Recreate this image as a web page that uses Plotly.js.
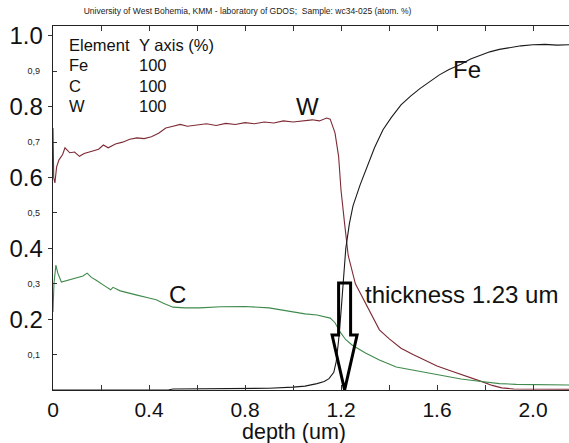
<!DOCTYPE html>
<html>
<head>
<meta charset="utf-8">
<script src="https://cdn.plot.ly/plotly-3.0.1.min.js"></script>
<style>html,body{margin:0;padding:0;background:#fff;}#chart{width:569px;height:443px;}</style>
</head>
<body>
<div id="chart"></div>
<script>
// ---- data ----
const wDepth = [0, 0.003, 0.008, 0.015, 0.025, 0.04, 0.05, 0.07, 0.09, 0.11, 0.13, 0.15, 0.17, 0.19, 0.21, 0.23, 0.26, 0.29, 0.32, 0.35, 0.38, 0.41, 0.44, 0.47, 0.5, 0.53, 0.56, 0.6, 0.64, 0.68, 0.72, 0.76, 0.8, 0.84, 0.88, 0.92, 0.96, 1.0, 1.04, 1.08, 1.11, 1.14, 1.155, 1.175, 1.19, 1.2, 1.215, 1.23, 1.26, 1.29, 1.32, 1.36, 1.4, 1.45, 1.5, 1.55, 1.6, 1.65, 1.7, 1.75, 1.79, 1.83, 1.87, 1.92, 2.0, 2.08, 2.15];
const wValue = [0.74, 0.60, 0.585, 0.63, 0.65, 0.665, 0.684, 0.67, 0.672, 0.66, 0.668, 0.672, 0.675, 0.68, 0.692, 0.684, 0.695, 0.70, 0.708, 0.712, 0.71, 0.715, 0.725, 0.74, 0.745, 0.75, 0.745, 0.748, 0.752, 0.747, 0.753, 0.75, 0.755, 0.752, 0.757, 0.754, 0.76, 0.757, 0.761, 0.763, 0.76, 0.768, 0.765, 0.726, 0.66, 0.565, 0.47, 0.38, 0.30, 0.26, 0.22, 0.17, 0.145, 0.118, 0.10, 0.083, 0.068, 0.056, 0.045, 0.033, 0.023, 0.013, 0.006, 0.003, 0.002, 0.002, 0.002];

const feDepth = [0, 0.48, 0.5, 0.6, 0.7, 0.8, 0.9, 1.0, 1.05, 1.1, 1.13, 1.15, 1.17, 1.18, 1.19, 1.2, 1.21, 1.22, 1.235, 1.25, 1.28, 1.31, 1.34, 1.375, 1.41, 1.45, 1.49, 1.53, 1.57, 1.61, 1.65, 1.7, 1.74, 1.78, 1.82, 1.86, 1.9, 1.95, 2.0, 2.05, 2.1, 2.15];
const feValue = [0, 0, 0.003, 0.003, 0.003, 0.004, 0.005, 0.008, 0.011, 0.018, 0.024, 0.032, 0.05, 0.08, 0.14, 0.22, 0.31, 0.40, 0.47, 0.52, 0.58, 0.63, 0.685, 0.735, 0.77, 0.805, 0.83, 0.852, 0.872, 0.89, 0.905, 0.92, 0.935, 0.946, 0.955, 0.962, 0.967, 0.972, 0.975, 0.976, 0.974, 0.975];

const cDepth = [0, 0.004, 0.012, 0.02, 0.035, 0.05, 0.07, 0.09, 0.11, 0.125, 0.142, 0.16, 0.18, 0.196, 0.22, 0.24, 0.25, 0.28, 0.31, 0.35, 0.4, 0.43, 0.46, 0.5, 0.55, 0.61, 0.7, 0.8, 0.9, 0.95, 1.0, 1.05, 1.1, 1.13, 1.155, 1.175, 1.196, 1.22, 1.246, 1.3, 1.36, 1.43, 1.5, 1.57, 1.64, 1.7, 1.75, 1.79, 1.86, 1.93, 2.0, 2.08, 2.15];
const cValue = [0.22, 0.30, 0.353, 0.33, 0.305, 0.308, 0.31, 0.315, 0.318, 0.322, 0.33, 0.318, 0.31, 0.302, 0.292, 0.283, 0.29, 0.28, 0.274, 0.268, 0.26, 0.255, 0.245, 0.234, 0.232, 0.232, 0.235, 0.236, 0.232, 0.226, 0.222, 0.215, 0.212, 0.208, 0.203, 0.19, 0.164, 0.142, 0.127, 0.105, 0.085, 0.065, 0.056, 0.047, 0.037, 0.031, 0.027, 0.023, 0.018, 0.016, 0.016, 0.015, 0.014];

const xTickVals = [0, 0.2, 0.4, 0.6, 0.8, 1.0, 1.2, 1.4, 1.6, 1.8, 2.0];
const xTickText = ["0", "", "0.4", "", "0.8", "", "1.2", "", "1.6", "", "2.0"];
const yMajorVals = [0.2, 0.4, 0.6, 0.8, 1.0];
const yMajorText = ["0.2", "0.4", "0.6", "0.8", "1.0"];
const yMinorVals = [0.1, 0.3, 0.5, 0.7, 0.9];
const yMinorText = ["0,1", "0,3", "0,5", "0,7", "0,9"];

const legendElements = ["Fe", "C", "W"];
const legendScales = ["100", "100", "100"];
const arrowDepth = 1.215;

// ---- layout helpers (pixel -> paper) ----
const L = 53, T = 26, PW = 516, PH = 364;
const px = v => (v - L) / PW;
const py = v => (T + PH - v) / PH;
const FONT = "Liberation Sans, Arial, sans-serif";

const traces = [
  {x: wDepth, y: wValue, mode: "lines", line: {color: "#7d2a34", width: 1.1}, name: "W", hoverinfo: "skip"},
  {x: feDepth, y: feValue, mode: "lines", line: {color: "#1a1a1a", width: 1.1}, name: "Fe", hoverinfo: "skip"},
  {x: cDepth, y: cValue, mode: "lines", line: {color: "#3f8a4c", width: 1.1}, name: "C", yaxis: "y2", hoverinfo: "skip"}
];

const annotations = [];
function txt(text, x, y, size, xanchor) {
  annotations.push({text: text, xref: "paper", yref: "paper", x: px(x), y: py(y),
    xanchor: xanchor || "left", yanchor: "middle", showarrow: false,
    font: {family: FONT, size: size, color: "#111"}});
}
txt("Element", 67, 45, 16.5);
txt("Y axis (%)", 137, 45, 16.5);
legendElements.forEach((e, i) => {
  const yy = 65 + i * 20.5;
  txt(e, 67, yy, 16.5);
  txt(legendScales[i], 137, yy, 16.5);
});
txt("W", 307, 106, 24, "center");
txt("Fe", 467, 69, 24, "center");
txt("C", 177, 294, 24, "center");
txt("thickness 1.23 um", 363, 294, 24);
txt("depth (um)", 294, 432, 21.5, "center");

const layout = {
  width: 569, height: 443,
  margin: {l: L, r: 0, t: T, b: 53, pad: 0},
  paper_bgcolor: "#fff", plot_bgcolor: "#fff",
  showlegend: false,
  title: {text: "University of West Bohemia, KMM - laboratory of GDOS;  Sample: wc34-025 (atom. %)",
    font: {family: FONT, size: 8.5, color: "#222"}, x: 0.435, xanchor: "center", y: 1 - 11 / 443, yanchor: "middle", xref: "container", yref: "container"},
  xaxis: {range: [0, 2.15], tickvals: xTickVals, ticktext: xTickText, ticks: "inside", ticklen: 5, tickcolor: "#333",
    showline: true, linecolor: "#222", linewidth: 1.3, mirror: "ticks", showgrid: false, zeroline: false,
    tickfont: {family: FONT, size: 21, color: "#111"}, ticklabelstandoff: 0, fixedrange: true},
  yaxis: {range: [0, 1.028], tickvals: yMajorVals, ticktext: yMajorText, ticks: "outside", ticklen: 4, tickcolor: "#333",
    showline: true, linecolor: "#222", linewidth: 1.3, showgrid: false, zeroline: false,
    tickfont: {family: FONT, size: 24, color: "#111"}, ticklabelstandoff: 0, fixedrange: true},
  yaxis2: {range: [0, 1.028], overlaying: "y", side: "left", tickvals: yMinorVals, ticktext: yMinorText, ticks: "inside", ticklen: 4, tickcolor: "#333",
    showline: false, showgrid: false, zeroline: false,
    tickfont: {family: FONT, size: 9, color: "#222"}, ticklabelstandoff: 12, fixedrange: true},
  annotations: annotations,
  shapes: [{
    type: "path", xref: "x", yref: "y", xsizemode: "pixel", ysizemode: "pixel",
    xanchor: arrowDepth, yanchor: 0,
    path: "M0,0 L-12.5,55 L-6,55 L-6,107 L6,107 L6,55 L12.5,55 Z",
    line: {color: "#000", width: 3}, fillcolor: "rgba(0,0,0,0)"
  }]
};

Plotly.newPlot("chart", traces, layout, {staticPlot: true, displayModeBar: false});
</script>
</body>
</html>
